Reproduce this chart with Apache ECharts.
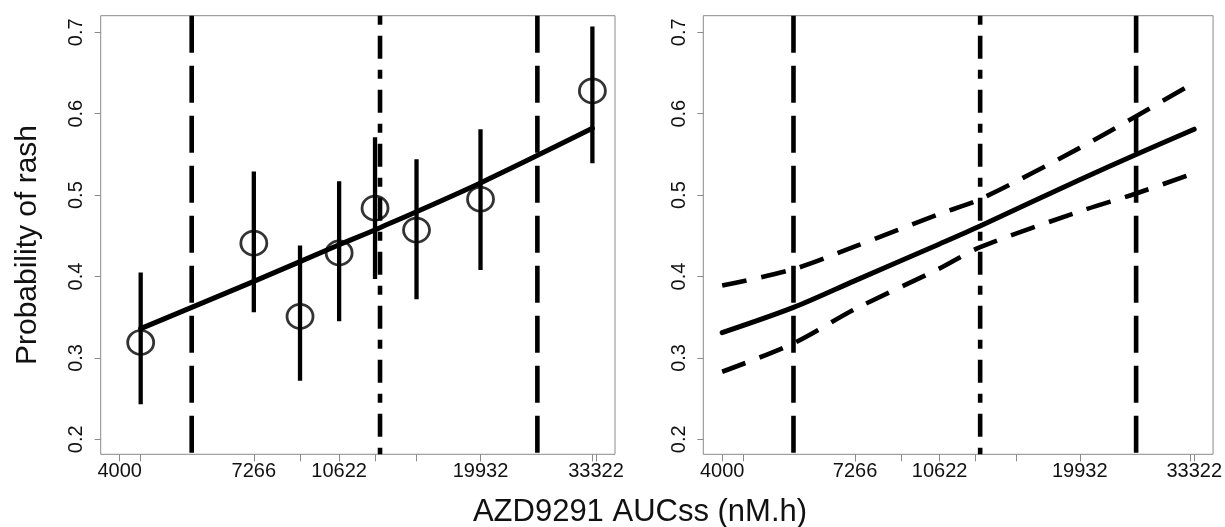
<!DOCTYPE html>
<html><head><meta charset="utf-8">
<script src="https://cdn.jsdelivr.net/npm/echarts@6/dist/echarts.min.js"></script>
<style>html,body{margin:0;padding:0;background:#fff}#c{width:1225px;height:527px}</style>
</head><body><div id="c"></div>
<script>
// ---- data ----
const tickLabels = [4000, 7266, 10622, 19932, 33322];
const yTickValues = [0.2, 0.3, 0.4, 0.5, 0.6, 0.7];
const binMid   = [4391, 7266, 8925, 10622, 12463, 14991, 19932, 32797];
const obsProb  = [0.319, 0.441, 0.351, 0.429, 0.484, 0.457, 0.495, 0.628];
const obsLower = [0.243, 0.356, 0.272, 0.345, 0.397, 0.372, 0.408, 0.539];
const obsUpper = [0.405, 0.529, 0.438, 0.517, 0.571, 0.544, 0.581, 0.707];
const leftFitX = [4391, 7266, 10622, 12743, 19932, 32797];
const leftFitY = [0.336, 0.394, 0.439, 0.460, 0.515, 0.582];
const predX     = [4000, 5510, 7266, 10622, 12743, 19932, 25672, 33322];
const predY     = [0.331, 0.362, 0.395, 0.440, 0.462, 0.519, 0.550, 0.581];
const predUpper = [0.389, 0.409, 0.437, 0.477, 0.495, 0.558, 0.597, 0.638];
const predLower = [0.283, 0.318, 0.360, 0.410, 0.436, 0.480, 0.502, 0.527];
const refLines  = [5510, 12743, 25672];
const refStyles = ['long', 'dotdash', 'long'];

// ---- chart ----
const FONT = '"Liberation Sans", Arial, sans-serif';
const X_MIN = 3675, X_MAX = 36270;
const Y_MIN = 0.1816, Y_MAX = 0.7204;
const xTickValues = tickLabels.concat(binMid).sort((a, b) => a - b);
const DASH = { long: [37, 13], dotdash: [9, 11, 23, 11], ci: [25, 15] };

function mkX(gi) {
  return {
    type: 'log', gridIndex: gi, min: X_MIN, max: X_MAX,
    axisLine: { show: false }, splitLine: { show: false },
    axisTick: { show: true, length: 7, lineStyle: { color: '#8a8a8a', width: 1 }, customValues: xTickValues },
    axisLabel: { customValues: tickLabels, formatter: v => String(Math.round(v)),
      fontSize: 20, color: '#111', fontFamily: FONT, margin: 7, hideOverlap: false }
  };
}
function mkY(gi) {
  return {
    type: 'value', gridIndex: gi, min: Y_MIN, max: Y_MAX,
    axisLine: { show: false }, splitLine: { show: false },
    axisTick: { show: true, length: 6, lineStyle: { color: '#8a8a8a', width: 1 }, customValues: yTickValues },
    axisLabel: { customValues: yTickValues, rotate: 90, formatter: v => v.toFixed(1),
      fontSize: 20, color: '#111', fontFamily: FONT, margin: 14 }
  };
}
function vline(gi, x, style) {
  return {
    type: 'line', xAxisIndex: gi, yAxisIndex: gi, data: [[x, Y_MAX], [x, Y_MIN]],
    symbol: 'none', silent: true, z: 3,
    lineStyle: { color: '#000', width: 4.6, type: DASH[style], cap: 'butt' }
  };
}
function curve(gi, xs, ys, dash, w) {
  return {
    type: 'line', xAxisIndex: gi, yAxisIndex: gi, data: xs.map((x, i) => [x, ys[i]]),
    symbol: 'none', silent: true, z: 4, smooth: 0.3,
    lineStyle: { color: '#000', width: w, type: dash || 'solid', cap: dash ? 'butt' : 'round', join: 'round' }
  };
}

const series = [];
// left panel
series.push({
  type: 'custom', xAxisIndex: 0, yAxisIndex: 0, z: 2,
  data: binMid.map((x, i) => [x, obsLower[i], obsUpper[i]]),
  encode: { x: 0, y: [1, 2] },
  renderItem: (params, api) => {
    const a = api.coord([api.value(0), api.value(1)]);
    const b = api.coord([api.value(0), api.value(2)]);
    return { type: 'line', shape: { x1: a[0], y1: a[1], x2: b[0], y2: b[1] },
      style: { stroke: '#000', lineWidth: 4.3 } };
  }
});
series.push({
  type: 'scatter', xAxisIndex: 0, yAxisIndex: 0, z: 5,
  data: binMid.map((x, i) => [x, obsProb[i]]),
  symbol: 'circle', symbolSize: [26, 24],
  itemStyle: { color: 'rgba(0,0,0,0)', borderColor: '#000', borderWidth: 2.7 }
});
series.push(curve(0, leftFitX, leftFitY, null, 5));
refLines.forEach((x, i) => series.push(vline(0, x, refStyles[i])));
// right panel
series.push(curve(1, predX, predY, null, 5));
series.push(curve(1, predX, predUpper, DASH.ci, 4.6));
series.push(curve(1, predX, predLower, DASH.ci, 4.6));
refLines.forEach((x, i) => series.push(vline(1, x, refStyles[i])));

const chart = echarts.init(document.getElementById('c'), null, { renderer: 'canvas' });
chart.setOption({
  animation: false,
  backgroundColor: '#fff',
  grid: [
    { left: 100.7, top: 15.7, width: 514.3, height: 438.6, show: true, borderColor: '#8a8a8a', borderWidth: 1 },
    { left: 703.3, top: 15.7, width: 515, height: 438.6, show: true, borderColor: '#8a8a8a', borderWidth: 1 }
  ],
  xAxis: [mkX(0), mkX(1)],
  yAxis: [mkY(0), mkY(1)],
  graphic: [
    { type: 'text', x: 28, y: 245, rotation: Math.PI / 2,
      style: { text: 'Probability of rash', font: '30px ' + FONT, fill: '#111',
        textAlign: 'center', textVerticalAlign: 'middle' } },
    { type: 'text', x: 640, y: 512,
      style: { text: 'AZD9291 AUCss (nM.h)', font: '31px ' + FONT, fill: '#111',
        textAlign: 'center', textVerticalAlign: 'middle' } }
  ],
  series
});
</script>
</body></html>
